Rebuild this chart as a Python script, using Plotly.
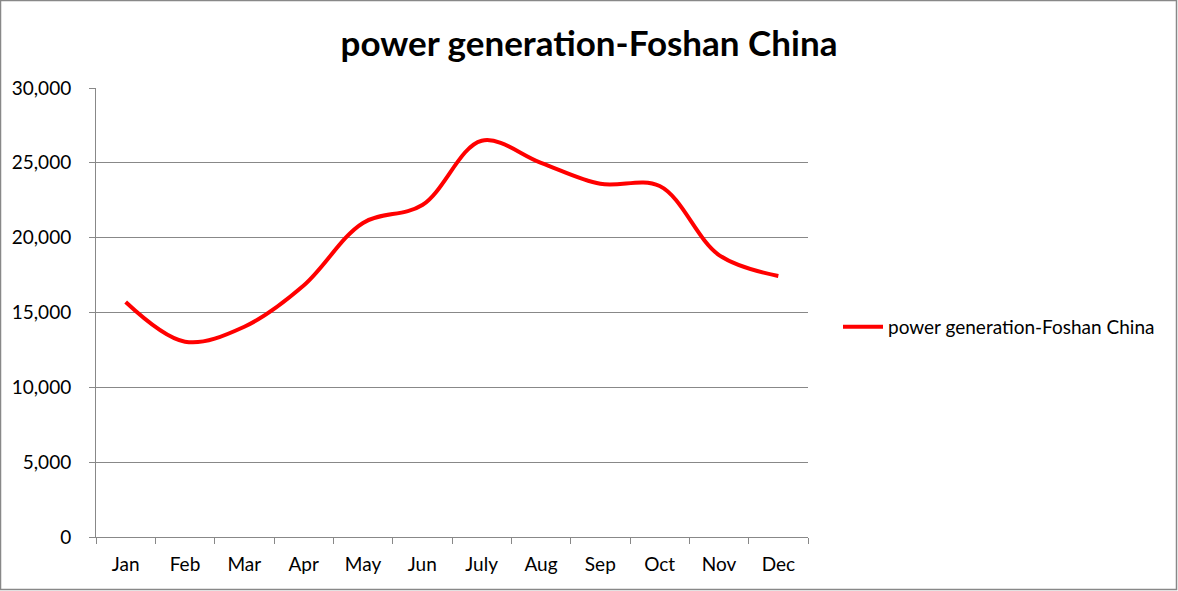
import plotly.graph_objects as go

months = ["Jan", "Feb", "Mar", "Apr", "May", "Jun", "July", "Aug", "Sep", "Oct", "Nov", "Dec"]
generation = [15700, 13050, 14050, 16800, 20980, 22180, 26480, 25000, 23600, 23450, 18840, 17440]
series_name = "power generation-Foshan China"
y_ticks = [0, 5000, 10000, 15000, 20000, 25000, 30000]

W, H = 1178, 591
ml, mr, mt, mb = 96, 370, 88, 54
pw, ph = W - ml - mr, H - mt - mb

fig = go.Figure()
fig.add_trace(go.Scatter(
    x=months, y=generation, name=series_name, mode="lines",
    line=dict(color="#ff0000", width=4, shape="spline", smoothing=1.0),
    showlegend=True,
))

font = "Lato, 'Open Sans', sans-serif"
fig.update_layout(
    width=W, height=H,
    margin=dict(l=ml, r=mr, t=mt, b=mb),
    paper_bgcolor="white", plot_bgcolor="white",
    font=dict(family=font, size=19, color="#000000"),
    title=dict(text="<b>" + series_name + "</b>", x=0.5, xanchor="center",
               y=1 - 44 / H, yanchor="middle",
               font=dict(family=font, size=35, color="#000000")),
    showlegend=True,
    legend=dict(x=1 + 30 / pw, xanchor="left", y=0.468, yanchor="middle",
                font=dict(family=font, size=19), bgcolor="rgba(0,0,0,0)",
                itemwidth=40),
    xaxis=dict(type="category", tickson="boundaries", ticks="outside", ticklen=6,
               range=[-0.5, len(months) - 0.5],
               tickcolor="#888888", showline=True, linecolor="#888888", linewidth=1,
               showgrid=False, tickfont=dict(size=19), ticklabelstandoff=10,
               fixedrange=True),
    yaxis=dict(range=[0, 30000], tickvals=y_ticks, tickformat=",", ticks="outside",
               ticklen=6, tickcolor="#888888", showline=True, linecolor="#888888",
               linewidth=1, showgrid=True, gridcolor="#888888", gridwidth=1,
               zeroline=False, tickfont=dict(size=19), ticklabelstandoff=14),
    shapes=[dict(type="rect", xref="paper", yref="paper",
                 x0=-(ml - 0.5) / pw, x1=1 + (mr - 1.5) / pw,
                 y0=-(mb - 1.5) / ph, y1=1 + (mt - 0.5) / ph,
                 line=dict(color="#888888", width=1.5), layer="below")],
)

fig.write_html("out.html")
